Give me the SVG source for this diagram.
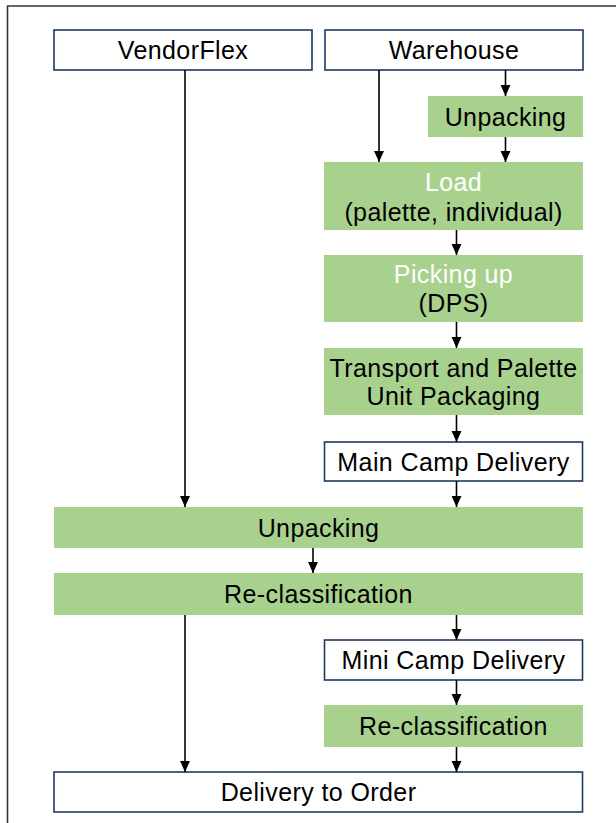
<svg xmlns="http://www.w3.org/2000/svg" width="616" height="823" viewBox="0 0 616 823">
<style>
.g{fill:#a9d18e;stroke:none}
.w{fill:#ffffff;stroke:#1f3864;stroke-width:1.6}
text{font-family:"Liberation Sans",Arial,sans-serif;font-size:25px;letter-spacing:0.4px;fill:#000;text-anchor:middle}
.wt{fill:#ffffff}
.c line{stroke:#000;stroke-width:1.6;marker-end:url(#ah)}
</style>
<defs>
<marker id="ah" viewBox="0 0 10 10" refX="10" refY="5" markerWidth="11" markerHeight="11" markerUnits="userSpaceOnUse" orient="auto">
<path d="M0,0.5 L10,5 L0,9.5 Z" fill="#000"/>
</marker>
</defs>
<rect x="0" y="0" width="616" height="823" fill="#ffffff"/>
<path d="M7.5,823 V6 H616" fill="none" stroke="#333" stroke-width="1.6"/>
<g id="vendorflex"><rect class="w" x="54" y="30" width="258" height="40"/><text x="183" y="59">VendorFlex</text></g>
<g id="warehouse"><rect class="w" x="325" y="30" width="258" height="40"/><text x="454" y="59">Warehouse</text></g>
<g id="unpacking1"><rect class="g" x="428" y="96" width="155" height="41"/><text x="505.5" y="125.5">Unpacking</text></g>
<g id="load"><rect class="g" x="324" y="162" width="259" height="68"/><text class="wt" x="453.5" y="191">Load</text><text x="453.5" y="221">(palette, individual)</text></g>
<g id="picking"><rect class="g" x="324" y="255" width="259" height="67"/><text class="wt" x="453.5" y="283">Picking up</text><text x="453.5" y="312">(DPS)</text></g>
<g id="transport"><rect class="g" x="324" y="348" width="259" height="67"/><text x="453.5" y="376.5">Transport and Palette</text><text x="453.5" y="405">Unit Packaging</text></g>
<g id="maincamp"><rect class="w" x="324.5" y="442" width="258" height="39"/><text x="453.5" y="470.5">Main Camp Delivery</text></g>
<g id="unpacking2"><rect class="g" x="54" y="507" width="529" height="41"/><text x="318.5" y="536.5">Unpacking</text></g>
<g id="reclass1"><rect class="g" x="54" y="573" width="529" height="42"/><text x="318.5" y="603">Re-classification</text></g>
<g id="minicamp"><rect class="w" x="324.5" y="640" width="258" height="40"/><text x="453.5" y="669">Mini Camp Delivery</text></g>
<g id="reclass2"><rect class="g" x="324" y="705" width="259" height="42"/><text x="453.5" y="735">Re-classification</text></g>
<g id="delivery"><rect class="w" x="54" y="772" width="528.5" height="40"/><text x="318.5" y="801">Delivery to Order</text></g>
<g id="connectors" class="c">
<line x1="185" y1="70" x2="185" y2="507"/>
<line x1="379" y1="70" x2="379" y2="162"/>
<line x1="505.5" y1="70" x2="505.5" y2="96"/>
<line x1="505.5" y1="137" x2="505.5" y2="162"/>
<line x1="456.5" y1="230" x2="456.5" y2="255"/>
<line x1="456.5" y1="322" x2="456.5" y2="348"/>
<line x1="456.5" y1="415" x2="456.5" y2="442"/>
<line x1="456.5" y1="481" x2="456.5" y2="507"/>
<line x1="313" y1="548" x2="313" y2="573"/>
<line x1="456.5" y1="615" x2="456.5" y2="640"/>
<line x1="185" y1="615" x2="185" y2="772"/>
<line x1="456.5" y1="680" x2="456.5" y2="705"/>
<line x1="456.5" y1="747" x2="456.5" y2="772"/>
</g>
</svg>
